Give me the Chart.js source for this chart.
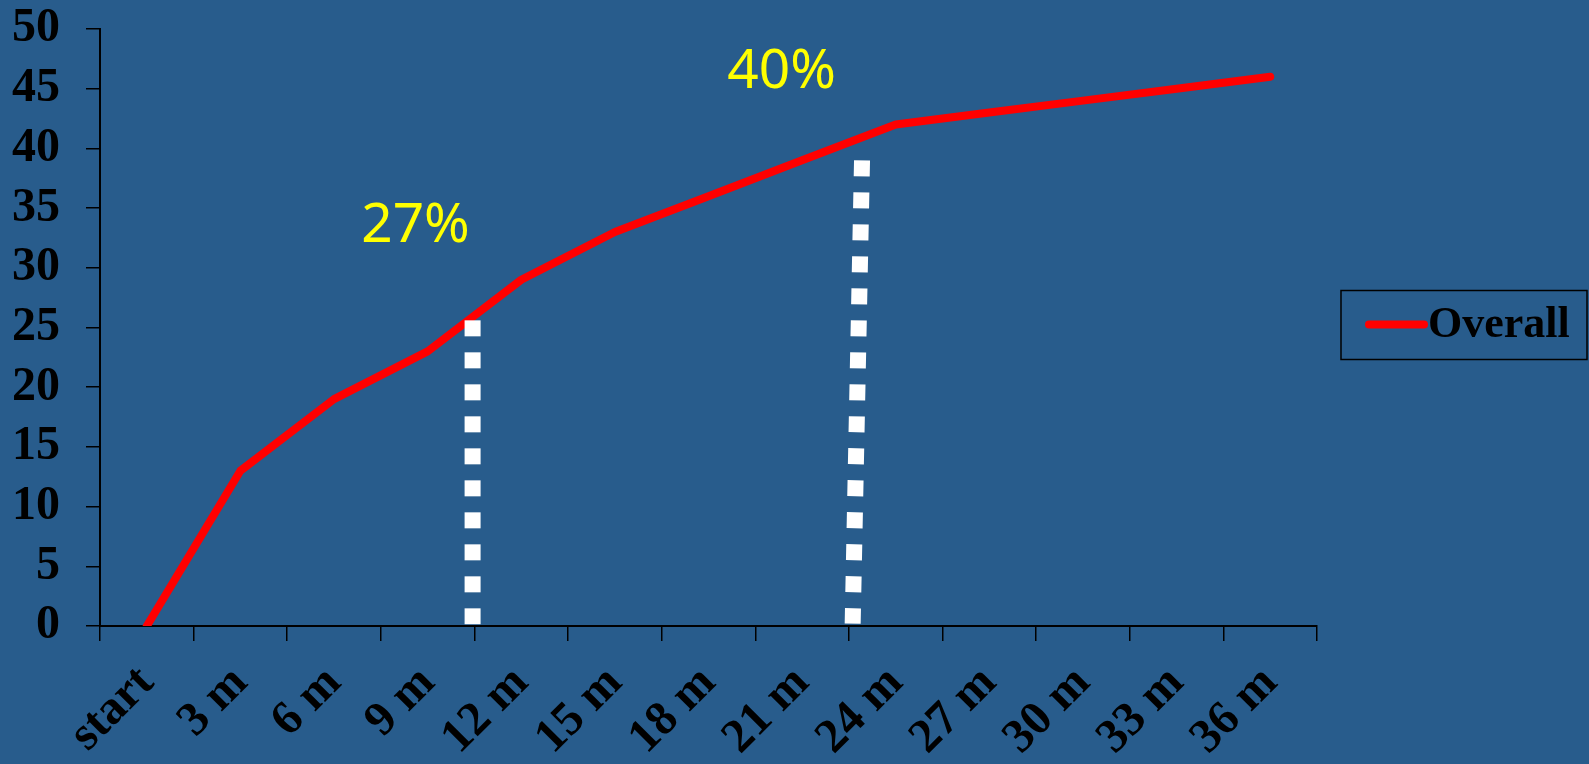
<!DOCTYPE html>
<html>
<head>
<meta charset="utf-8">
<script src="https://cdn.jsdelivr.net/npm/chart.js@4/dist/chart.umd.min.js"></script>
<style>
  html, body { margin: 0; padding: 0; background: #285c8c; }
  #wrap { width: 1589px; height: 764px; }
</style>
</head>
<body>
<div id="wrap"><canvas id="chart"></canvas></div>
<script>
var months = ['start', '3 m', '6 m', '9 m', '12 m', '15 m', '18 m', '21 m', '24 m', '27 m', '30 m', '33 m', '36 m'];
var overall = [0, 13, 19, 23, 29, 33, 36, 39, 42, 43, 44, 45, 46];

// dotted markers (x in category units, between ticks)
var marker12 = [{x: 3.48, y: 25.6}, {x: 3.48, y: 0.15}];
var marker24 = [{x: 7.64, y: 39.0}, {x: 7.54, y: 0.2}];

var notes = [
  {text: '27%', x: 2.87, y: 32.2},
  {text: '40%', x: 6.78, y: 45.1}
];

var serif = "'Liberation Serif', 'Times New Roman', serif";

// yellow percentage labels
var notesPlugin = {
  id: 'notes',
  afterDatasetsDraw: function(chart) {
    var ctx = chart.ctx;
    var xs = chart.scales.x2, ys = chart.scales.y;
    ctx.save();
    ctx.fillStyle = '#ffff00';
    ctx.font = "55px 'Noto Sans', sans-serif";
    ctx.textAlign = 'center';
    ctx.textBaseline = 'alphabetic';
    notes.forEach(function(n) {
      ctx.fillText(n.text, xs.getPixelForValue(n.x), ys.getPixelForValue(n.y));
    });
    ctx.restore();
  }
};

// boxed legend on the right
var boxLegend = {
  id: 'boxLegend',
  afterDraw: function(chart) {
    var ctx = chart.ctx;
    var ds = chart.data.datasets[0];
    var cy = (chart.chartArea.top + chart.chartArea.bottom) / 2 - 3;
    ctx.save();
    ctx.strokeStyle = '#000';
    ctx.lineWidth = 1.5;
    ctx.strokeRect(1341, cy - 34, 246, 69);
    ctx.strokeStyle = ds.borderColor;
    ctx.lineWidth = 8;
    ctx.lineCap = 'round';
    ctx.beginPath();
    ctx.moveTo(1369, cy);
    ctx.lineTo(1424, cy);
    ctx.stroke();
    ctx.fillStyle = '#000';
    ctx.font = 'bold 44px ' + serif;
    ctx.textBaseline = 'middle';
    ctx.fillText(ds.label, 1428, cy + 1);
    ctx.restore();
  }
};

new Chart(document.getElementById('chart').getContext('2d'), {
  type: 'line',
  data: {
    labels: months,
    datasets: [{
      label: 'Overall',
      data: overall,
      borderColor: '#ff0000',
      borderWidth: 8,
      borderCapStyle: 'round',
      borderJoinStyle: 'round',
      pointRadius: 0,
      tension: 0,
      order: 1
    }, {
      label: '12 m',
      data: marker12,
      xAxisID: 'x2',
      borderColor: '#ffffff',
      borderWidth: 16,
      borderDash: [16, 16],
      borderCapStyle: 'butt',
      pointRadius: 0,
      order: 0
    }, {
      label: '24 m',
      data: marker24,
      xAxisID: 'x2',
      borderColor: '#ffffff',
      borderWidth: 16,
      borderDash: [16, 16],
      borderCapStyle: 'butt',
      pointRadius: 0,
      order: 0
    }]
  },
  options: {
    responsive: true,
    maintainAspectRatio: false,
    animation: false,
    layout: { padding: { top: 29, right: 272, left: 0, bottom: 0 } },
    plugins: { legend: { display: false }, tooltip: { enabled: false } },
    scales: {
      x: {
        type: 'category',
        offset: true,
        grid: { offset: true, drawOnChartArea: false, color: '#000', lineWidth: 1.5, tickLength: 15 },
        border: { color: '#000', width: 2 },
        ticks: {
          color: '#000',
          font: { family: serif, size: 48, weight: 'bold' },
          minRotation: 45,
          maxRotation: 45,
          autoSkip: false,
          padding: 14
        },
        afterFit: function(s) {
          s.height = 138;
          s.paddingLeft = 0; s.paddingRight = 0; s.paddingTop = 0; s.paddingBottom = 0;
        }
      },
      x2: {
        type: 'linear',
        display: false,
        min: -0.5,
        max: 12.5
      },
      y: {
        min: 0,
        max: 50,
        grid: { drawOnChartArea: false, color: '#000', lineWidth: 1.5, tickLength: 14 },
        border: { color: '#000', width: 2 },
        ticks: {
          stepSize: 5,
          autoSkip: false,
          color: '#000',
          padding: 26,
          font: { family: serif, size: 48, weight: 'bold' }
        },
        afterFit: function(s) {
          s.width = 100;
          s.paddingLeft = 0; s.paddingRight = 0; s.paddingTop = 0; s.paddingBottom = 0;
        }
      }
    }
  },
  plugins: [notesPlugin, boxLegend]
});
</script>
</body>
</html>
